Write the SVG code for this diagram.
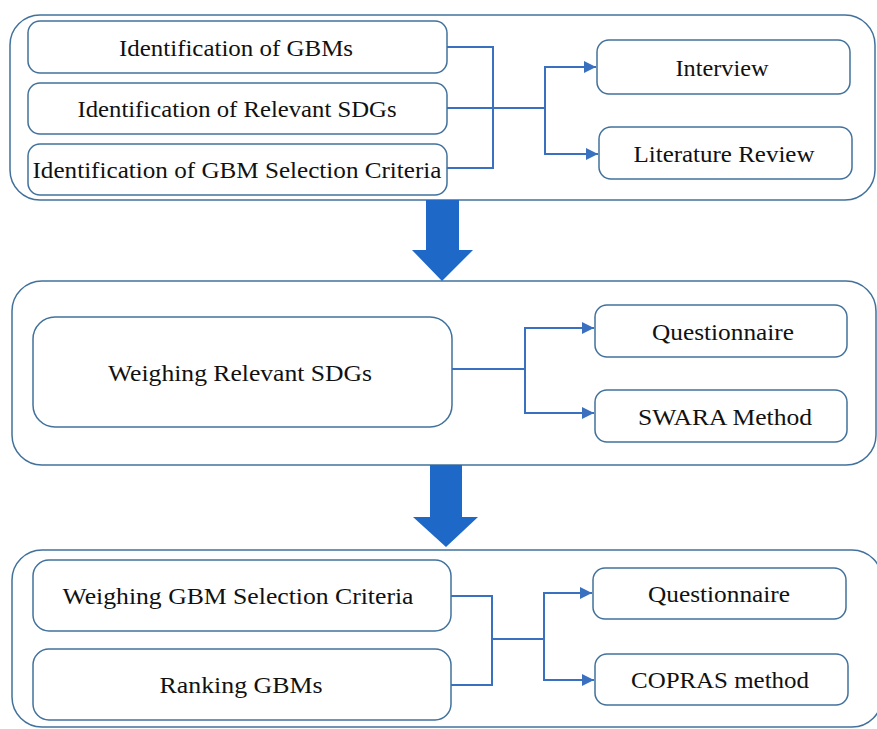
<svg xmlns="http://www.w3.org/2000/svg" width="877" height="729" viewBox="0 0 877 729">
<style>
.cont{fill:none;stroke:#41719C;stroke-width:1.5}
.box{fill:#ffffff;stroke:#41719C;stroke-width:1.5}
.t{font-family:"Liberation Serif","Times New Roman",serif;font-size:24px;fill:#111;text-anchor:middle}
.c{fill:none;stroke:#3A70C0;stroke-width:2}
.big{fill:#1E68C8}
</style>
<defs>
<marker id="ah" viewBox="0 0 10 10" refX="10" refY="5" markerWidth="6" markerHeight="6" markerUnits="strokeWidth" orient="auto">
<path d="M0,0 L10,5 L0,10 Z" fill="#3A70C0"/>
</marker>
</defs>
<rect width="877" height="729" fill="#ffffff"/>
<g id="containers">
<rect class="cont" x="10" y="15" width="865" height="185" rx="30"/>
<rect class="cont" x="12" y="281" width="864" height="184" rx="30"/>
<rect class="cont" x="12" y="550" width="870" height="177" rx="30"/>
</g>
<g id="bigarrows">
<path class="big" d="M426,200 H459 V250 H473 L442,281 L412,250 H426 Z"/>
<path class="big" d="M430,465 H462 V517 H478 L446,547 L413,517 H430 Z"/>
</g>
<g id="n1"><rect class="box" x="28" y="21" width="419" height="52" rx="12"/><text class="t" x="236" y="56" textLength="234" lengthAdjust="spacingAndGlyphs">Identification of GBMs</text></g>
<g id="n2"><rect class="box" x="28" y="83" width="419" height="51" rx="12"/><text class="t" x="237" y="117" textLength="319" lengthAdjust="spacingAndGlyphs">Identification of Relevant SDGs</text></g>
<g id="n3"><rect class="box" x="28" y="144" width="419" height="51" rx="12"/><text class="t" x="237" y="178" textLength="409" lengthAdjust="spacingAndGlyphs">Identification of GBM Selection Criteria</text></g>
<g id="n4"><rect class="box" x="597" y="40" width="253" height="54" rx="12"/><text class="t" x="722" y="76" textLength="93" lengthAdjust="spacingAndGlyphs">Interview</text></g>
<g id="n5"><rect class="box" x="599" y="127" width="253" height="52" rx="12"/><text class="t" x="724" y="162" textLength="181" lengthAdjust="spacingAndGlyphs">Literature Review</text></g>
<g id="n6"><rect class="box" x="33" y="317" width="419" height="110" rx="22"/><text class="t" x="240" y="381" textLength="264" lengthAdjust="spacingAndGlyphs">Weighing Relevant SDGs</text></g>
<g id="n7"><rect class="box" x="595" y="305" width="252" height="52" rx="12"/><text class="t" x="723" y="340" textLength="142" lengthAdjust="spacingAndGlyphs">Questionnaire</text></g>
<g id="n8"><rect class="box" x="595" y="390" width="252" height="52" rx="12"/><text class="t" x="725" y="425" textLength="174" lengthAdjust="spacingAndGlyphs">SWARA Method</text></g>
<g id="n9"><rect class="box" x="33" y="560" width="418" height="71" rx="16"/><text class="t" x="238" y="604" textLength="351" lengthAdjust="spacingAndGlyphs">Weighing GBM Selection Criteria</text></g>
<g id="n10"><rect class="box" x="33" y="649" width="418" height="71" rx="16"/><text class="t" x="241" y="693" textLength="163" lengthAdjust="spacingAndGlyphs">Ranking GBMs</text></g>
<g id="n11"><rect class="box" x="593" y="568" width="253" height="51" rx="12"/><text class="t" x="719" y="602" textLength="142" lengthAdjust="spacingAndGlyphs">Questionnaire</text></g>
<g id="n12"><rect class="box" x="595" y="654" width="253" height="51" rx="12"/><text class="t" x="720" y="688" textLength="178" lengthAdjust="spacingAndGlyphs">COPRAS method</text></g>
<g id="connectors">
<path class="c" d="M447,47 H493 V168 H447"/>
<path class="c" d="M447,108 H545"/>
<path class="c" d="M545,108 V67 H596" marker-end="url(#ah)"/>
<path class="c" d="M545,108 V154 H598" marker-end="url(#ah)"/>
<path class="c" d="M452,369 H525"/>
<path class="c" d="M525,369 V328 H594" marker-end="url(#ah)"/>
<path class="c" d="M525,369 V413 H594" marker-end="url(#ah)"/>
<path class="c" d="M451,596 H492 V685 H451"/>
<path class="c" d="M492,639 H544"/>
<path class="c" d="M544,639 V593 H592" marker-end="url(#ah)"/>
<path class="c" d="M544,639 V680 H594" marker-end="url(#ah)"/>
</g>
</svg>
